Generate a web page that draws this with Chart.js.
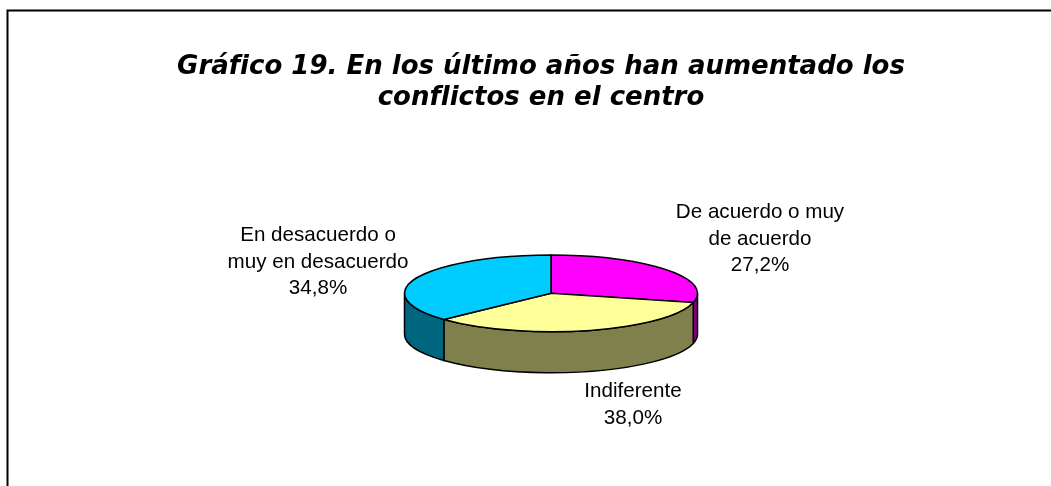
<!DOCTYPE html>
<html><head><meta charset="utf-8">
<style>html,body{margin:0;padding:0;background:#fff}canvas{display:block}</style>
<script src="https://cdn.jsdelivr.net/npm/chart.js@4/dist/chart.umd.min.js"></script>
</head><body>
<canvas id="c" width="1051" height="486" style="width:1051px;height:486px"></canvas>
<script>
const categories = ['De acuerdo o muy de acuerdo', 'Indiferente', 'En desacuerdo o muy en desacuerdo'];
const values = [27.2, 38.0, 34.8];
const topColors = ['#FF00FF', '#FFFF99', '#00CCFF'];
const wallColors = ['#800080', '#80804D', '#006680'];
const titleLines = ['Gráfico 19. En los último años han aumentado los', 'conflictos en el centro'];
const labelLines = [['De acuerdo o muy', 'de acuerdo'], ['Indiferente'], ['En desacuerdo o', 'muy en desacuerdo']];
const labelAnchors = [[760, 218], [633, 397], [318, 241]];

const FLAT = 0.262, DEPTH = 41, PK = 1.178, PM = -0.0816;
function warp(t) {
  const th = t + Math.PI / 2;
  let r = Math.atan2(Math.sin(th), PK * Math.cos(th) + PM);
  if (r < 0) r += 2 * Math.PI;
  if (th > 0.01 && r < 0.001) r = 2 * Math.PI;
  return r - Math.PI / 2;
}
const pie3d = {
  id: 'pie3d',
  beforeDatasetsDraw(chart) {
    const ctx = chart.ctx, arcs = chart.getDatasetMeta(0).data;
    ctx.save();
    ctx.lineJoin = 'round';
    ctx.strokeStyle = '#000';
    ctx.lineWidth = 1.5;
    arcs.forEach((el, i) => {
      const s = Math.max(warp(el.startAngle), 0), e = Math.min(warp(el.endAngle), Math.PI);
      if (e <= s) return;
      const rx = el.outerRadius, ry = rx * FLAT;
      ctx.beginPath();
      ctx.ellipse(el.x, el.y, rx, ry, 0, s, e);
      ctx.ellipse(el.x, el.y + DEPTH, rx, ry, 0, e, s, true);
      ctx.closePath();
      ctx.fillStyle = wallColors[i];
      ctx.fill();
      ctx.stroke();
    });
    arcs.forEach(el => {
      const s = warp(el.startAngle), e = warp(el.endAngle);
      const rx = el.outerRadius, ry = rx * FLAT;
      ctx.beginPath();
      ctx.moveTo(el.x, el.y);
      ctx.ellipse(el.x, el.y, rx, ry, 0, s, e);
      ctx.closePath();
      ctx.fillStyle = el.options.backgroundColor;
      ctx.fill();
      ctx.stroke();
    });
    ctx.restore();
    return false;
  },
  afterDraw(chart) {
    const ctx = chart.ctx;
    ctx.save();
    ctx.strokeStyle = '#000';
    ctx.lineWidth = 2;
    ctx.beginPath();
    ctx.moveTo(7.5, 486); ctx.lineTo(7.5, 10.5); ctx.lineTo(1051, 10.5);
    ctx.stroke();
    ctx.fillStyle = '#000';
    ctx.textAlign = 'center';
    ctx.textBaseline = 'alphabetic';
    ctx.textRendering = 'optimizeSpeed';
    ctx.font = 'italic bold 26px "DejaVu Sans"';
    ctx.fillText(titleLines[0], 541, 74);
    ctx.fillText(titleLines[1], 541, 105);
    ctx.font = '20.6px "Liberation Sans"';
    labelLines.forEach((lines, i) => {
      const [x, y] = labelAnchors[i];
      const all = lines.concat(values[i].toFixed(1).replace('.', ',') + '%');
      all.forEach((t, j) => ctx.fillText(t, x, y + j * 26.5));
    });
    ctx.restore();
  }
};
new Chart(document.getElementById('c'), {
  type: 'pie',
  data: { labels: categories, datasets: [{ data: values, backgroundColor: topColors, borderColor: '#000', borderWidth: 1 }] },
  options: {
    responsive: false, animation: false,
    layout: { padding: { left: 404, right: 353, top: 146.3, bottom: 45.7 } },
    plugins: { legend: { display: false }, tooltip: { enabled: false } }
  },
  plugins: [pie3d]
});
</script>
</body></html>
